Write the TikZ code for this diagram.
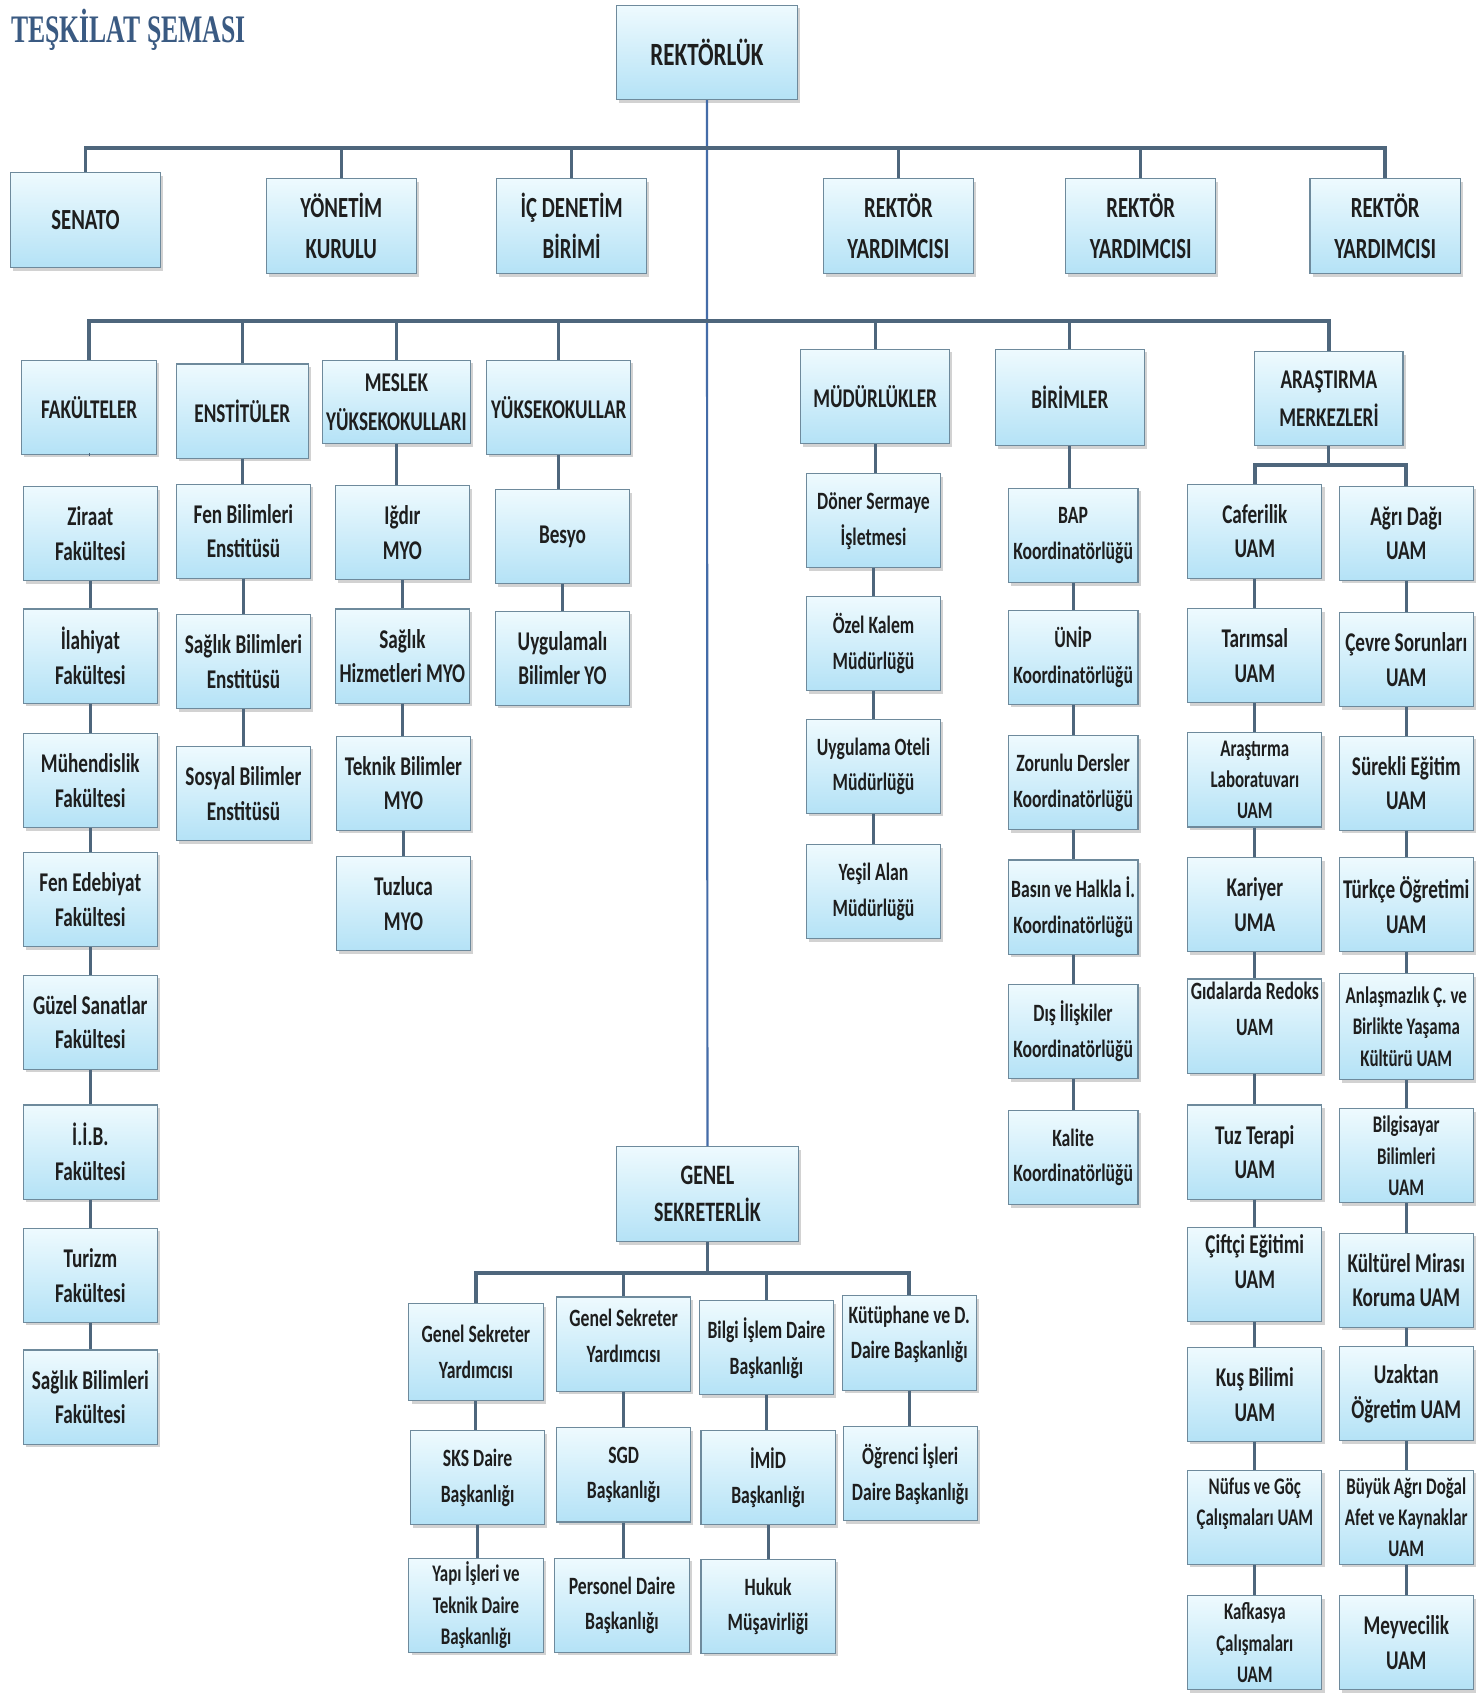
\documentclass[tikz,border=0pt]{standalone}
\usepackage{fontspec}
\newfontfamily\orgfont[FakeStretch=0.71,UprightFont=* Bold]{Carlito}
\newfontfamily\titlefont[FakeStretch=0.66]{Liberation Serif}
\usetikzlibrary{shadows}

\definecolor{boxtop}{RGB}{238,250,254}
\definecolor{boxbottom}{RGB}{180,226,246}
\definecolor{boxline}{RGB}{110,138,156}
\definecolor{linkgray}{RGB}{78,102,124}
\definecolor{spineblue}{RGB}{68,108,168}
\definecolor{titleblue}{RGB}{58,90,130}
\definecolor{inktext}{RGB}{30,30,30}

\tikzset{
  unit/.style={draw=boxline, line width=0.5pt, top color=boxtop, bottom color=boxbottom,
    drop shadow={shadow xshift=1.2pt, shadow yshift=-1.4pt, opacity=0.35},
    minimum width=62pt, minimum height=43.5pt, inner sep=1pt, align=center, text=inktext,
    font=\orgfont\fontsize{12.5}{16}\selectfont},
  bigunit/.style={unit, minimum width=69.5pt, minimum height=44pt,
    font=\orgfont\fontsize{13.5}{19}\selectfont},
  headunit/.style={unit, font=\orgfont\fontsize{12.5}{18}\selectfont},
  smallunit/.style={unit, font=\orgfont\fontsize{11.5}{16.5}\selectfont},
  tinyunit/.style={unit, font=\orgfont\fontsize{11}{14.5}\selectfont},
  link/.style={draw=linkgray, line width=1.4pt},
  bus/.style={draw=linkgray, line width=1.8pt},
  spine/.style={draw=spineblue, line width=1pt}
}

\begin{document}
\begin{tikzpicture}[x=0.5pt,y=-0.5pt]
\useasboundingbox[fill=white] (0,0) rectangle (1370,1566);

% title
\node[anchor=base west, inner sep=0pt, text=titleblue,
  font=\titlefont\bfseries\fontsize{18}{20}\selectfont] (title) at (10,39) {TEŞKİLAT ŞEMASI};

% top
\node[bigunit, minimum width=83.5pt, minimum height=43.5pt,
  font=\orgfont\fontsize{15}{19}\selectfont] (rektor) at (653.5,48.5) {REKTÖRLÜK};
\node[bigunit, minimum width=84pt, font=\orgfont\fontsize{13}{17}\selectfont] (genel) at (654,1104) {GENEL\\SEKRETERLİK};

% row 1
\node[bigunit] (senato) at (79,203.5) {SENATO};
\node[bigunit] (yonetim) at (315.5,209) {YÖNETİM\\KURULU};
\node[bigunit] (icdenetim) at (528.5,209) {İÇ DENETİM\\BİRİMİ};
\node[bigunit] (ryard1) at (830.5,209) {REKTÖR\\YARDIMCISI};
\node[bigunit] (ryard2) at (1054.5,209) {REKTÖR\\YARDIMCISI};
\node[bigunit] (ryard3) at (1280.5,209) {REKTÖR\\YARDIMCISI};

% row 2
\node[headunit, minimum width=62.5pt] (fak) at (82.5,376.5) {FAKÜLTELER};
\node[headunit, minimum width=61pt] (enst) at (224,380) {ENSTİTÜLER};
\node[headunit, minimum width=68.5pt, minimum height=38.5pt] (meslek) at (366.5,371.5) {MESLEK\\YÜKSEKOKULLARI};
\node[headunit, minimum width=66.5pt] (yuksek) at (516.5,376.5) {YÜKSEKOKULLAR};
\node[headunit, minimum width=69pt] (mudur) at (809,366.5) {MÜDÜRLÜKLER};
\node[headunit, minimum width=69pt, minimum height=44.5pt] (birim) at (989,367.5) {BİRİMLER};
\node[headunit, minimum width=68.5pt] (arastirma) at (1228.5,368.5) {ARAŞTIRMA\\MERKEZLERİ};

% fakulteler
\node[unit] (ziraat) at (83.5,493.5) {Ziraat\\Fakültesi};
\node[unit] (ilahiyat) at (83.5,606.5) {İlahiyat\\Fakültesi};
\node[unit] (muhendis) at (83.5,721.5) {Mühendislik\\Fakültesi};
\node[unit] (fenedeb) at (83.5,831.5) {Fen Edebiyat\\Fakültesi};
\node[unit] (guzel) at (83.5,945) {Güzel Sanatlar\\Fakültesi};
\node[unit] (iib) at (83.5,1065) {İ.İ.B.\\Fakültesi};
\node[unit] (turizm) at (83.5,1179) {Turizm\\Fakültesi};
\node[unit] (saglikfak) at (83.5,1291.5) {Sağlık Bilimleri\\Fakültesi};

% enstituler
\node[unit] (fenenst) at (225,491) {Fen Bilimleri\\Enstitüsü};
\node[unit] (saglikenst) at (225,611.5) {Sağlık Bilimleri\\Enstitüsü};
\node[unit] (sosyalenst) at (225,733.5) {Sosyal Bilimler\\Enstitüsü};

% meslek yuksekokullari
\node[unit] (igdir) at (372,492.5) {Iğdır\\MYO};
\node[unit] (saglikmyo) at (372,606.5) {Sağlık\\Hizmetleri MYO};
\node[unit] (teknik) at (373,724) {Teknik Bilimler\\MYO};
\node[unit] (tuzluca) at (373,835.5) {Tuzluca\\MYO};

% yuksekokullar
\node[unit] (besyo) at (520,496) {Besyo};
\node[unit] (uygulamali) at (520,608.5) {Uygulamalı\\Bilimler YO};

% mudurlukler
\node[smallunit] (doner) at (807.5,481.5) {Döner Sermaye\\İşletmesi};
\node[smallunit] (ozelkalem) at (807.5,595) {Özel Kalem\\Müdürlüğü};
\node[smallunit] (oteli) at (807.5,708.5) {Uygulama Oteli\\Müdürlüğü};
\node[smallunit] (yesil) at (807.5,824.5) {Yeşil Alan\\Müdürlüğü};

% birimler
\node[smallunit, minimum width=60pt] (bap) at (992,495) {BAP\\Koordinatörlüğü};
\node[smallunit, minimum width=60pt] (unip) at (992,607.5) {ÜNİP\\Koordinatörlüğü};
\node[smallunit, minimum width=60pt] (zorunlu) at (992,723.5) {Zorunlu Dersler\\Koordinatörlüğü};
\node[smallunit, minimum width=60pt] (basin) at (992,838.5) {Basın ve Halkla İ.\\Koordinatörlüğü};
\node[smallunit, minimum width=60pt] (disil) at (992,953.5) {Dış İlişkiler\\Koordinatörlüğü};
\node[smallunit, minimum width=60pt] (kalite) at (992,1070) {Kalite\\Koordinatörlüğü};

% arastirma merkezleri, left
\node[unit] (caferilik) at (1160,491) {Caferilik\\UAM};
\node[unit] (tarimsal) at (1160,606) {Tarımsal\\UAM};
\node[tinyunit] (arlab) at (1160,721) {Araştırma\\Laboratuvarı\\UAM};
\node[unit] (kariyer) at (1160,836.5) {Kariyer\\UMA};
\node[smallunit, text depth=16pt] (gida) at (1160,948.5) {Gıdalarda Redoks\\UAM};
\node[unit] (tuz) at (1160,1065) {Tuz Terapi\\UAM};
\node[unit, text depth=12.5pt] (ciftci) at (1160,1178.5) {Çiftçi Eğitimi\\UAM};
\node[unit] (kus) at (1160,1289) {Kuş Bilimi\\UAM};
\node[tinyunit, text depth=14pt] (nufus) at (1160,1402.5) {Nüfus ve Göç\\Çalışmaları UAM};
\node[tinyunit] (kafkasya) at (1160,1518.5) {Kafkasya\\Çalışmaları\\UAM};

% arastirma merkezleri, right
\node[unit] (agri) at (1300,493) {Ağrı Dağı\\UAM};
\node[unit] (cevre) at (1300,610) {Çevre Sorunları\\UAM};
\node[unit] (surekli) at (1300,724) {Sürekli Eğitim\\UAM};
\node[unit] (turkce) at (1300,836.5) {Türkçe Öğretimi\\UAM};
\node[tinyunit, minimum height=49pt] (anlasma) at (1300,949) {Anlaşmazlık Ç. ve\\Birlikte Yaşama\\Kültürü UAM};
\node[tinyunit] (bilgisayar) at (1300,1068.5) {Bilgisayar\\Bilimleri\\UAM};
\node[unit] (kulturel) at (1300,1183.5) {Kültürel Mirası\\Koruma UAM};
\node[unit] (uzaktan) at (1300,1288.5) {Uzaktan\\Öğretim UAM};
\node[tinyunit] (buyuk) at (1300,1402.5) {Büyük Ağrı Doğal\\Afet ve Kaynaklar\\UAM};
\node[unit] (meyve) at (1300,1518.5) {Meyvecilik\\UAM};

% genel sekreterlik
\node[smallunit, minimum height=45pt] (gsy1) at (440,1250) {Genel Sekreter\\Yardımcısı};
\node[smallunit, text depth=7.5pt] (gsy2) at (576.5,1242.5) {Genel Sekreter\\Yardımcısı};
\node[smallunit] (bilgi) at (708.5,1246) {Bilgi İşlem Daire\\Başkanlığı};
\node[smallunit, text depth=10pt] (kutup) at (840.5,1241.5) {Kütüphane ve D.\\Daire Başkanlığı};
\node[smallunit] (sks) at (441.5,1366) {SKS Daire\\Başkanlığı};
\node[tinyunit] (yapi) at (440,1484) {Yapı İşleri ve\\Teknik Daire\\Başkanlığı};
\node[smallunit] (sgd) at (576.5,1363.5) {SGD\\Başkanlığı};
\node[smallunit] (personel) at (575,1484) {Personel  Daire\\Başkanlığı};
\node[smallunit] (imid) at (710,1366) {İMİD\\Başkanlığı};
\node[smallunit] (hukuk) at (710,1485) {Hukuk\\Müşavirliği};
\node[smallunit] (ogrenci) at (841.5,1362.5) {Öğrenci İşleri\\Daire Başkanlığı};

% bus lines
\coordinate (busA) at (653,137);
\coordinate (busB) at (653,297);
\coordinate (busC) at (1228.5,430);
\coordinate (busD) at (654,1177);
\draw[spine] (rektor.south) -- (genel.north);
\draw[bus] (senato.north) -- (senato.north |- busA) -- (ryard3.north |- busA) -- (ryard3.north);
\draw[link] (yonetim.north) -- (yonetim.north |- busA);
\draw[link] (icdenetim.north) -- (icdenetim.north |- busA);
\draw[link] (ryard1.north) -- (ryard1.north |- busA);
\draw[link] (ryard2.north) -- (ryard2.north |- busA);
\draw[bus] (fak.north) -- (fak.north |- busB) -- (arastirma.north |- busB) -- (arastirma.north);
\draw[link] (enst.north) -- (enst.north |- busB);
\draw[link] (meslek.north) -- (meslek.north |- busB);
\draw[link] (yuksek.north) -- (yuksek.north |- busB);
\draw[link] (mudur.north) -- (mudur.north |- busB);
\draw[link] (birim.north) -- (birim.north |- busB);
\draw[link] (arastirma.south) -- (busC);
\draw[bus] (caferilik.north) -- (caferilik.north |- busC) -- (agri.north |- busC) -- (agri.north);
\draw[link] (genel.south) -- (busD);
\draw[bus] (gsy1.north) -- (gsy1.north |- busD) -- (kutup.north |- busD) -- (kutup.north);
\draw[link] (gsy2.north) -- (gsy2.north |- busD);
\draw[link] (bilgi.north) -- (bilgi.north |- busD);

% chains
\draw[link] (fak.south) -- (fak.south -| ziraat.north);
\draw[link] (ziraat.south) -- (ilahiyat.north);
\draw[link] (ilahiyat.south) -- (muhendis.north);
\draw[link] (muhendis.south) -- (fenedeb.north);
\draw[link] (fenedeb.south) -- (guzel.north);
\draw[link] (guzel.south) -- (iib.north);
\draw[link] (iib.south) -- (turizm.north);
\draw[link] (turizm.south) -- (saglikfak.north);
\draw[link] (enst.south) -- (enst.south |- fenenst.north);
\draw[link] (fenenst.south) -- (saglikenst.north);
\draw[link] (saglikenst.south) -- (sosyalenst.north);
\draw[link] (meslek.south) -- (meslek.south |- igdir.north);
\draw[link] (igdir.south) -- (saglikmyo.north);
\draw[link] (saglikmyo.south) -- (saglikmyo.south |- teknik.north);
\draw[link] (teknik.south) -- (tuzluca.north);
\draw[link] (yuksek.south) -- (yuksek.south |- besyo.north);
\draw[link] (besyo.south) -- (uygulamali.north);
\draw[link] (mudur.south) -- (mudur.south |- doner.north);
\draw[link] (doner.south) -- (ozelkalem.north);
\draw[link] (ozelkalem.south) -- (oteli.north);
\draw[link] (oteli.south) -- (yesil.north);
\draw[link] (birim.south) -- (birim.south |- bap.north);
\draw[link] (bap.south) -- (unip.north);
\draw[link] (unip.south) -- (zorunlu.north);
\draw[link] (zorunlu.south) -- (basin.north);
\draw[link] (basin.south) -- (disil.north);
\draw[link] (disil.south) -- (kalite.north);
\draw[link] (caferilik.south) -- (tarimsal.north);
\draw[link] (tarimsal.south) -- (arlab.north);
\draw[link] (arlab.south) -- (kariyer.north);
\draw[link] (kariyer.south) -- (gida.north);
\draw[link] (gida.south) -- (tuz.north);
\draw[link] (tuz.south) -- (ciftci.north);
\draw[link] (ciftci.south) -- (kus.north);
\draw[link] (kus.south) -- (nufus.north);
\draw[link] (nufus.south) -- (kafkasya.north);
\draw[link] (agri.south) -- (cevre.north);
\draw[link] (cevre.south) -- (surekli.north);
\draw[link] (surekli.south) -- (turkce.north);
\draw[link] (turkce.south) -- (anlasma.north);
\draw[link] (anlasma.south) -- (bilgisayar.north);
\draw[link] (bilgisayar.south) -- (kulturel.north);
\draw[link] (kulturel.south) -- (uzaktan.north);
\draw[link] (uzaktan.south) -- (buyuk.north);
\draw[link] (buyuk.south) -- (meyve.north);
\draw[link] (gsy1.south) -- (gsy1.south |- sks.north);
\draw[link] (sks.south) -- (sks.south |- yapi.north);
\draw[link] (gsy2.south) -- (sgd.north);
\draw[link] (sgd.south) -- (sgd.south |- personel.north);
\draw[link] (bilgi.south) -- (bilgi.south |- imid.north);
\draw[link] (imid.south) -- (hukuk.north);
\draw[link] (kutup.south) -- (kutup.south |- ogrenci.north);
\end{tikzpicture}
\end{document}
